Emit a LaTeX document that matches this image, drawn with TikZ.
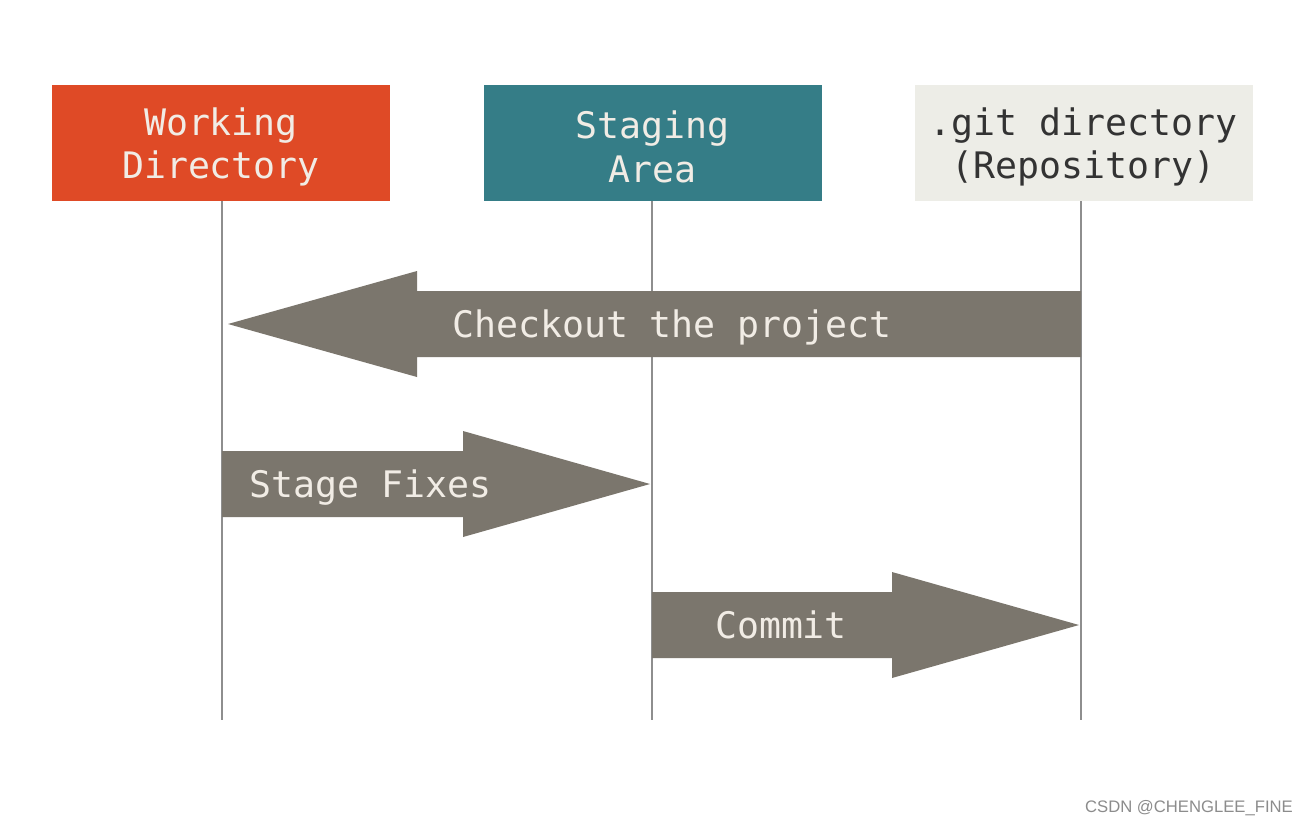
\documentclass[tikz,border=0pt]{standalone}
\usepackage{fontspec}
\setmonofont{DejaVu Sans Mono}
\setsansfont{Liberation Sans}
\usetikzlibrary{calc}
\definecolor{wdred}{HTML}{DF4A26}
\definecolor{teal2}{HTML}{357D87}
\definecolor{gitgray}{HTML}{EDEDE7}
\definecolor{arrowgray}{HTML}{7B766D}
\definecolor{lifegray}{HTML}{8E8E8E}
\definecolor{lighttext}{HTML}{F1ECE5}
\definecolor{darktext}{HTML}{333333}
\tikzset{
  box/.style={minimum width=253.5pt, minimum height=87pt, inner sep=0pt},
  boxtext/.style={align=center, inner sep=0pt, yshift=-3pt,
    font=\ttfamily\fontsize{27.4}{32.5}\selectfont},
  lifeline/.style={draw=lifegray, line width=1.6pt},
  bigarrow/.style={fill=arrowgray},
  arrowtext/.style={text=lighttext, font=\ttfamily\fontsize{27.4}{32.5}\selectfont, inner sep=0pt, anchor=base},
}
\begin{document}
\begin{tikzpicture}[x=0.75pt,y=-0.75pt]
\useasboundingbox[fill=white] (0,0) rectangle (1310,826);
% boxes
\node[box, fill=wdred] (wd) at (221,143) {};
\node[boxtext, text=lighttext] (wdt) at (wd.center) {Working\\Directory};
\node[box, fill=teal2] (sa) at (652.5,143) {};
\node[boxtext, text=lighttext] (sat) at (sa.center) {Staging\\Area};
\node[box, fill=gitgray] (git) at (1083.5,143) {};
\node[boxtext, text=darktext] (gitt) at (git.center) {.git directory\\(Repository)};
% lifelines
\coordinate (wdend) at (222,720);
\coordinate (saend) at (652,720);
\coordinate (gitend) at (1081,720);
\draw[lifeline] (wd.south -| wdend) -- (wdend);
\draw[lifeline] (sa.south -| saend) -- (saend);
\draw[lifeline] (git.south -| gitend) -- (gitend);
% checkout arrow (git -> wd)
\coordinate (c1s) at (1081,324);
\coordinate (c1t) at (228,324);
\fill[bigarrow] ($(c1s)+(0,-33)$) -- ($(c1t)+(189,-33)$) -- ($(c1t)+(189,-53)$) -- (c1t)
  -- ($(c1t)+(189,53)$) -- ($(c1t)+(189,33)$) -- ($(c1s)+(0,33)$) -- cycle;
\node[arrowtext] (t1) at (672,337) {Checkout the project};
% stage fixes arrow (wd -> sa)
\coordinate (c2s) at (222,484);
\coordinate (c2t) at (650,484);
\fill[bigarrow] ($(c2s)+(0,-33)$) -- ($(c2t)+(-187,-33)$) -- ($(c2t)+(-187,-53)$) -- (c2t)
  -- ($(c2t)+(-187,53)$) -- ($(c2t)+(-187,33)$) -- ($(c2s)+(0,33)$) -- cycle;
\node[arrowtext, anchor=base west] (t2) at (249,497) {Stage Fixes};
% commit arrow (sa -> git)
\coordinate (c3s) at (652,625);
\coordinate (c3t) at (1079,625);
\fill[bigarrow] ($(c3s)+(0,-33)$) -- ($(c3t)+(-187,-33)$) -- ($(c3t)+(-187,-53)$) -- (c3t)
  -- ($(c3t)+(-187,53)$) -- ($(c3t)+(-187,33)$) -- ($(c3s)+(0,33)$) -- cycle;
\node[arrowtext] (t3) at (781,638) {Commit};
% watermark
\node[font=\sffamily\fontsize{12.5}{14}\selectfont, text=black!45, inner sep=0pt] (wm) at (1189,808) {CSDN @CHENGLEE\_FINE};
\end{tikzpicture}
\end{document}
